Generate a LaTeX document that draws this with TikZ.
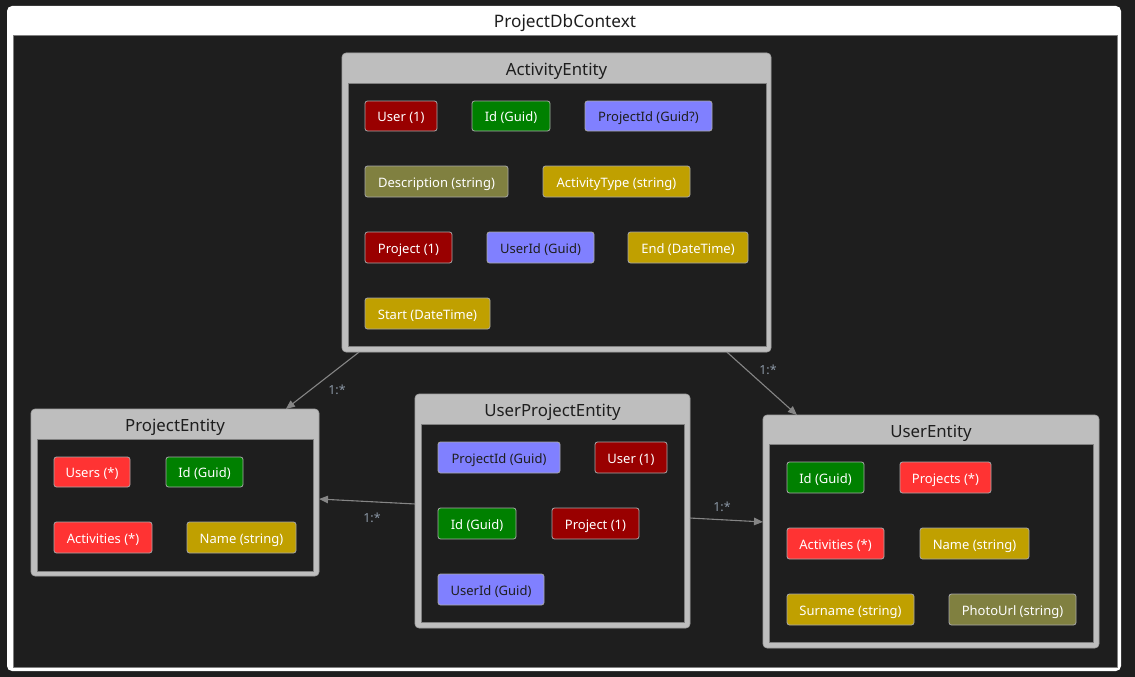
\documentclass[tikz,border=0pt]{standalone}
\usepackage{fontspec}
\setmainfont{Noto Sans}
\usetikzlibrary{arrows.meta,calc}
\definecolor{bg}{HTML}{1E1E1E}
\definecolor{entgray}{HTML}{BEBEBE}
\definecolor{innerline}{HTML}{808080}
\definecolor{fdark}{HTML}{990000}
\definecolor{fgreen}{HTML}{008000}
\definecolor{fblue}{HTML}{8080FF}
\definecolor{folive}{HTML}{808040}
\definecolor{fgold}{HTML}{C0A000}
\definecolor{fred}{HTML}{FF3333}
\definecolor{fborder}{HTML}{A8A8A8}
\definecolor{conncol}{HTML}{858585}
\definecolor{lblcol}{HTML}{8C98A6}
\tikzset{
  box/.style={inner sep=0pt, outer sep=0pt},
  entbox/.style={box, fill=entgray, draw=entgray!85!black, line width=0.6pt, rounded corners=4pt},
  entinner/.style={box, fill=bg, draw=innerline, line width=0.8pt},
  enttitle/.style={font=\fontsize{16.8}{19}\selectfont, text=bg, inner sep=0pt, text height=13.5pt, text depth=1.4pt},
  field/.style={box, draw=fborder, line width=0.8pt, rounded corners=2.5pt, text=white, font=\fontsize{13}{15}\selectfont, text height=12.4pt, text depth=1.3pt},
  frel/.style={field, fill=fdark},
  fkey/.style={field, fill=fgreen},
  ffk/.style={field, fill=fblue, text=bg},
  fopt/.style={field, fill=folive},
  fval/.style={field, fill=fgold},
  fcoll/.style={field, fill=fred},
  conn/.style={draw=conncol, line width=1.1pt, -{Triangle[length=9pt,width=7.5pt]}},
  lbl/.style={text=lblcol, font=\fontsize{12.5}{14}\selectfont},
}
% #1 name, #2 style, #3 x1, #4 y1, #5 x2, #6 y2, #7 text
\newcommand\rectnode[7]{%
  \node[#2, minimum width={(#5-#3)*1pt}, minimum height={(#6-#4)*1pt}] (#1) at ({(#3+#5)/2},{(#4+#6)/2}) {#7};}
\begin{document}
\begin{tikzpicture}[x=1pt,y=-1pt]
\useasboundingbox (0,0) rectangle (1135,677);
\fill[bg] (0,0) rectangle (1135,677);
% outer container
\rectnode{ctx}{box, fill=white, rounded corners=5pt}{7}{6}{1121}{671}{}
\node[font=\fontsize{17.2}{19}\selectfont, text=bg, inner sep=0pt, text height=13.8pt, text depth=1.4pt] (ctxtitle) at (565,21.5) {ProjectDbContext};
\rectnode{ctxinner}{entinner}{13}{35}{1117}{667}{}

% ActivityEntity
\rectnode{act}{entbox}{342}{53}{771}{352}{}
\node[enttitle] (acttitle) at (556.5,69) {ActivityEntity};
\rectnode{actin}{entinner}{348}{83}{766}{346}{}
\rectnode{a1}{frel}{365}{101}{437}{131}{User (1)}
\rectnode{a2}{fkey}{472}{101}{550}{131}{Id (Guid)}
\rectnode{a3}{ffk}{585}{101}{712}{131}{ProjectId (Guid?)}
\rectnode{a4}{fopt}{365}{166}{508}{197}{Description (string)}
\rectnode{a5}{fval}{543}{166}{690}{197}{ActivityType (string)}
\rectnode{a6}{frel}{365}{232}{452}{263}{Project (1)}
\rectnode{a7}{ffk}{487}{232}{594}{263}{UserId (Guid)}
\rectnode{a8}{fval}{628}{232}{748}{263}{End (DateTime)}
\rectnode{a9}{fval}{365}{298}{490}{329}{Start (DateTime)}

% ProjectEntity
\rectnode{proj}{entbox}{31}{409}{319}{576}{}
\node[enttitle] (projtitle) at (175,425) {ProjectEntity};
\rectnode{projin}{entinner}{37}{439}{313}{571}{}
\rectnode{p1}{fcoll}{54}{457}{130}{487}{Users (*)}
\rectnode{p2}{fkey}{166}{457}{243}{487}{Id (Guid)}
\rectnode{p3}{fcoll}{54}{522}{152}{553}{Activities (*)}
\rectnode{p4}{fval}{187}{522}{296}{553}{Name (string)}

% UserProjectEntity
\rectnode{up}{entbox}{415}{394}{690}{628}{}
\node[enttitle] (uptitle) at (552.5,410) {UserProjectEntity};
\rectnode{upin}{entinner}{421}{424}{684}{622}{}
\rectnode{u1}{ffk}{438}{442}{560}{473}{ProjectId (Guid)}
\rectnode{u2}{frel}{595}{442}{667}{473}{User (1)}
\rectnode{u3}{fkey}{438}{508}{516}{539}{Id (Guid)}
\rectnode{u4}{frel}{552}{508}{639}{539}{Project (1)}
\rectnode{u5}{ffk}{438}{574}{544}{605}{UserId (Guid)}

% UserEntity
\rectnode{user}{entbox}{763}{415}{1099}{648}{}
\node[enttitle] (usertitle) at (931,431) {UserEntity};
\rectnode{userin}{entinner}{769}{444}{1093}{642}{}
\rectnode{e1}{fkey}{787}{462}{864}{493}{Id (Guid)}
\rectnode{e2}{fcoll}{900}{462}{991}{493}{Projects (*)}
\rectnode{e3}{fcoll}{787}{528}{884}{559}{Activities (*)}
\rectnode{e4}{fval}{920}{528}{1029}{559}{Name (string)}
\rectnode{e5}{fval}{787}{594}{914}{625}{Surname (string)}
\rectnode{e6}{fopt}{949}{594}{1076}{625}{PhotoUrl (string)}

% connectors
\draw[conn] ($(act.south west)!0.04!(act.south east)$) -- ($(proj.north west)!0.885!(proj.north east)$);
\draw[conn] ($(act.south west)!0.897!(act.south east)$) -- ($(user.north west)!0.101!(user.north east)$);
\draw[conn] ($(up.north west)!0.47!(up.south west)$) -- ($(proj.north east)!0.539!(proj.south east)$);
\draw[conn] ($(up.north east)!0.53!(up.south east)$) -- ($(user.north west)!0.459!(user.south west)$);
\node[lbl] (l1) at (337,390) {1:*};
\node[lbl] (l2) at (768,370) {1:*};
\node[lbl] (l3) at (372,518) {1:*};
\node[lbl] (l4) at (722,507) {1:*};
\end{tikzpicture}
\end{document}
